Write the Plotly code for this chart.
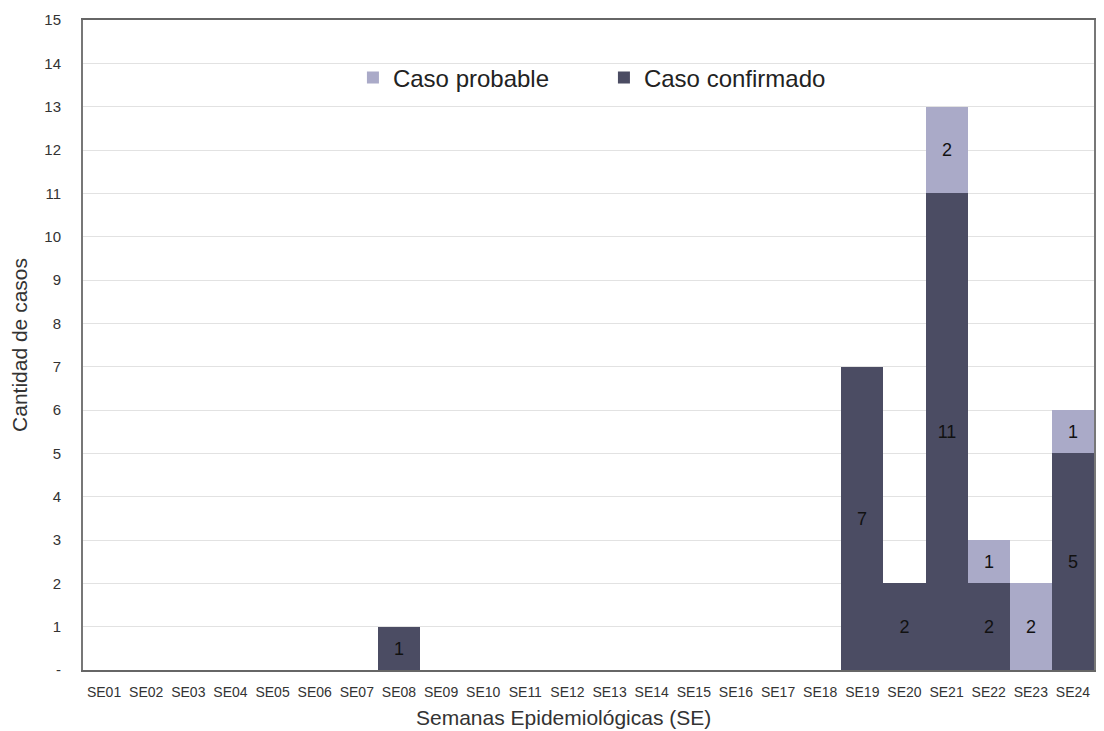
import plotly.graph_objects as go

weeks = [f"SE{i:02d}" for i in range(1, 25)]
confirmado = [0, 0, 0, 0, 0, 0, 0, 1, 0, 0, 0, 0, 0, 0, 0, 0, 0, 0, 7, 2, 11, 2, 0, 5]
probable = [0, 0, 0, 0, 0, 0, 0, 0, 0, 0, 0, 0, 0, 0, 0, 0, 0, 0, 0, 0, 2, 1, 2, 1]
y_ticks = list(range(0, 16))
y_labels = ["-"] + [str(v) for v in range(1, 16)]
x_title = "Semanas Epidemiológicas (SE)"
y_title = "Cantidad de casos"

def txt(vals):
    return [str(v) if v else "" for v in vals]

fig = go.Figure()
fig.add_trace(go.Bar(
    x=weeks, y=confirmado, name="Caso confirmado",
    marker=dict(color="#4b4c63", line=dict(width=0)),
    text=txt(confirmado), textposition="inside", insidetextanchor="middle",
    textfont=dict(color="#111111", size=18), textangle=0,
))
fig.add_trace(go.Bar(
    x=weeks, y=probable, name="Caso probable",
    marker=dict(color="#aaaac8", line=dict(width=0)),
    text=txt(probable), textposition="inside", insidetextanchor="middle",
    textfont=dict(color="#111111", size=18), textangle=0,
))

fig.add_annotation(
    text=x_title, xref="paper", yref="paper", x=0.475, y=-0.073,
    xanchor="center", yanchor="middle", showarrow=False,
    font=dict(size=21, color="#333333"),
)

fig.update_layout(
    width=1088, height=723,
    barmode="stack", bargap=0,
    paper_bgcolor="white", plot_bgcolor="white",
    margin=dict(l=75, r=2, t=12, b=61, autoexpand=False),
    font=dict(family="Liberation Sans, Arial, sans-serif", color="#333333"),
    uniformtext=dict(mode="show", minsize=18),
    legend=dict(
        orientation="h", traceorder="reversed",
        x=0.267, y=0.911, xanchor="left", yanchor="middle",
        font=dict(size=24, color="#222222"),
        bgcolor="rgba(0,0,0,0)", itemwidth=30, entrywidth=206,
    ),
    xaxis=dict(
        tickfont=dict(size=14, color="#333333"),
        showline=True, linecolor="#666666", linewidth=2, mirror=True,
        ticks="", tickangle=0, ticklabelstandoff=8, automargin=False,
    ),
    yaxis=dict(
        title=dict(text=y_title, font=dict(size=21, color="#333333"), standoff=16),
        range=[0, 15], tickvals=y_ticks, ticktext=y_labels,
        tickfont=dict(size=15, color="#333333"),
        showgrid=True, gridcolor="#e2e2e2", gridwidth=1,
        showline=True, linecolor="#777777", linewidth=2, mirror=True,
        ticks="", zeroline=False, ticklabelstandoff=17, automargin=False,
    ),
)

fig.write_html("out.html")
